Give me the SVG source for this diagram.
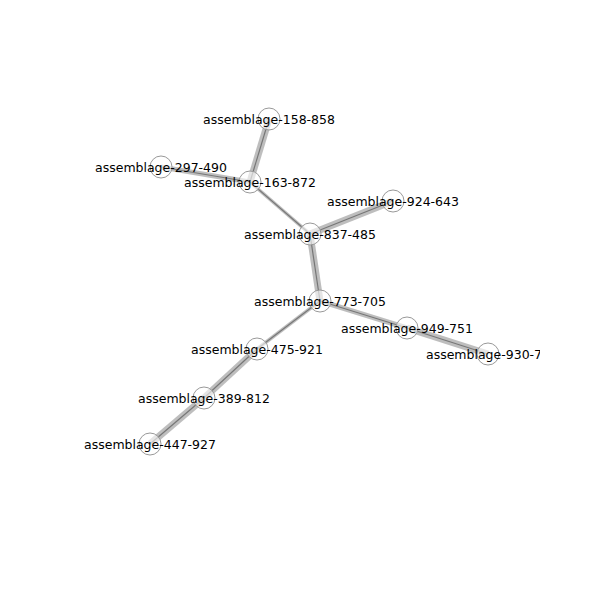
<svg xmlns="http://www.w3.org/2000/svg" width="600" height="600" viewBox="0 0 600 600">
<defs>
<clipPath id="ax"><rect x="60" y="60" width="480" height="480"/></clipPath>
<style>
.w{stroke:#a8a8a8;stroke-opacity:0.75;stroke-linecap:butt;fill:none}
.c{stroke:#777;stroke-width:1.2;fill:none}
.n{fill:#fff;fill-opacity:0.6;stroke:#999;stroke-width:1}
.t{font-family:"DejaVu Sans",sans-serif;font-size:12.5px;fill:#000;text-anchor:middle;dominant-baseline:central}
</style>
</defs>
<rect width="600" height="600" fill="#fff"/>
<g clip-path="url(#ax)">
<g id="connectors">
<line class="w" stroke-width="7" x1="250" y1="182" x2="269" y2="119"/><line class="c" x1="250" y1="182" x2="269" y2="119"/>
<line class="w" stroke-width="5" x1="161" y1="167" x2="250" y2="182"/><line class="c" x1="161" y1="167" x2="250" y2="182"/>
<line class="w" stroke-width="3.5" x1="250" y1="182" x2="310" y2="234"/><line class="c" x1="250" y1="182" x2="310" y2="234"/>
<line class="w" stroke-width="7" x1="310" y1="234" x2="393" y2="201"/><line class="c" x1="310" y1="234" x2="393" y2="201"/>
<line class="w" stroke-width="7" x1="310" y1="234" x2="320" y2="301"/><line class="c" x1="310" y1="234" x2="320" y2="301"/>
<line class="w" stroke-width="5" x1="320" y1="301" x2="407" y2="328"/><line class="c" x1="320" y1="301" x2="407" y2="328"/>
<line class="w" stroke-width="7" x1="407" y1="328" x2="488" y2="354"/><line class="c" x1="407" y1="328" x2="488" y2="354"/>
<line class="w" stroke-width="3.5" x1="320" y1="301" x2="257" y2="349"/><line class="c" x1="320" y1="301" x2="257" y2="349"/>
<line class="w" stroke-width="7" x1="257" y1="349" x2="204" y2="398"/><line class="c" x1="257" y1="349" x2="204" y2="398"/>
<line class="w" stroke-width="7" x1="204" y1="398" x2="150" y2="444"/><line class="c" x1="204" y1="398" x2="150" y2="444"/>
</g>
<g id="n158-858"><circle class="n" cx="269" cy="119" r="11"/><text class="t" x="269" y="119">assemblage-158-858</text></g>
<g id="n297-490"><circle class="n" cx="161" cy="167" r="11"/><text class="t" x="161" y="167">assemblage-297-490</text></g>
<g id="n163-872"><circle class="n" cx="250" cy="182" r="11"/><text class="t" x="250" y="182">assemblage-163-872</text></g>
<g id="n924-643"><circle class="n" cx="393" cy="201" r="11"/><text class="t" x="393" y="201">assemblage-924-643</text></g>
<g id="n837-485"><circle class="n" cx="310" cy="234" r="11"/><text class="t" x="310" y="234">assemblage-837-485</text></g>
<g id="n773-705"><circle class="n" cx="320" cy="301" r="11"/><text class="t" x="320" y="301">assemblage-773-705</text></g>
<g id="n949-751"><circle class="n" cx="407" cy="328" r="11"/><text class="t" x="407" y="328">assemblage-949-751</text></g>
<g id="n930-7"><circle class="n" cx="488" cy="354" r="11"/><text class="t" x="488" y="354">assemblage-930-72</text></g>
<g id="n475-921"><circle class="n" cx="257" cy="349" r="11"/><text class="t" x="257" y="349">assemblage-475-921</text></g>
<g id="n389-812"><circle class="n" cx="204" cy="398" r="11"/><text class="t" x="204" y="398">assemblage-389-812</text></g>
<g id="n447-927"><circle class="n" cx="150" cy="444" r="11"/><text class="t" x="150" y="444">assemblage-447-927</text></g>
</g>
</svg>
